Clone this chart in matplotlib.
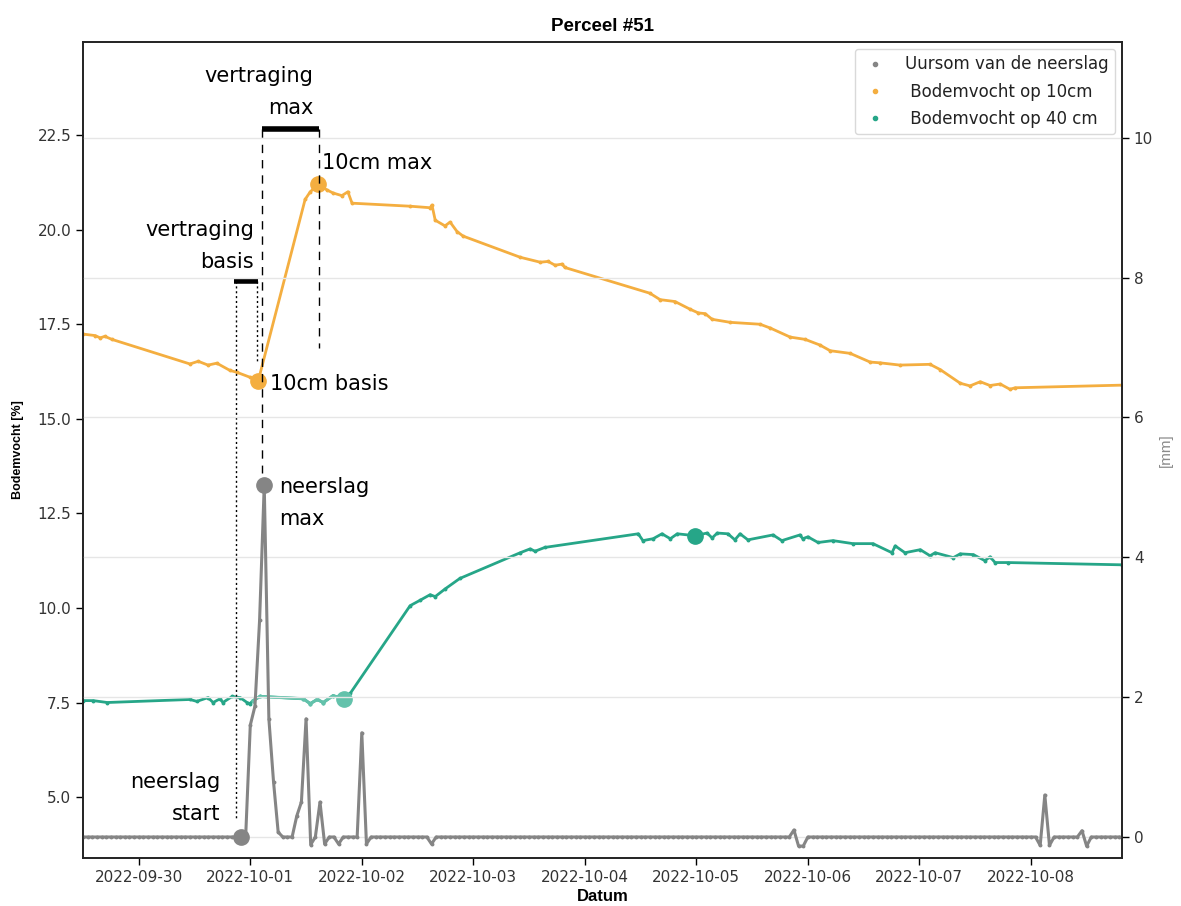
import matplotlib
matplotlib.use("Agg")
import matplotlib.pyplot as plt
import matplotlib.dates as mdates
from matplotlib.lines import Line2D
import pandas as pd

# start of the plotted window, all times below are hours after it
start = pd.Timestamp("2022-09-29 12:00")
end_h = 223.6

# bodemvocht op 10 cm
h10 = [0, 2.6, 3.7, 4.7, 6.2, 23.0, 24.8, 26.9, 28.8, 31.6, 33.1, 35.9, 37.7,
       47.8, 48.9, 50.6, 52.5, 53.8, 55.7, 57.0, 57.9, 70.4, 74.7, 75.1, 75.8,
       77.9, 79.0, 80.5, 81.8, 94.1, 98.4, 100.1, 101.6, 103.1, 103.7, 122.0,
       124.2, 127.4, 130.6, 132.4, 133.9, 135.4, 139.3, 145.7, 147.9, 152.2,
       155.4, 158.6, 160.8, 165.1, 169.4, 171.5, 175.8, 182.3, 184.5, 188.8,
       190.9, 193.1, 195.2, 197.4, 199.5, 200.6, 223.6]
v10 = [17.24, 17.2, 17.14, 17.18, 17.1, 16.45, 16.52, 16.42, 16.47, 16.28, 16.23,
       16.1, 16.0, 20.8, 21.0, 21.2, 21.05, 20.97, 20.9, 21.0, 20.7, 20.62, 20.58,
       20.65, 20.25, 20.1, 20.2, 19.95, 19.83, 19.27, 19.14, 19.16, 19.06, 19.09,
       19.0, 18.32, 18.15, 18.1, 17.9, 17.8, 17.78, 17.63, 17.55, 17.5, 17.4,
       17.16, 17.1, 16.95, 16.8, 16.73, 16.5, 16.48, 16.42, 16.44, 16.3, 15.94,
       15.87, 15.98, 15.88, 15.92, 15.78, 15.82, 15.89]

# bodemvocht op 40 cm
h40 = [0, 2.2, 5.2, 23.0, 24.5, 26.9, 28.0, 29.5, 30.1, 32.1, 33.8, 35.3, 35.9,
       36.6, 38.1, 47.4, 48.9, 50.4, 51.7, 53.8, 56.2, 57.5, 70.4, 72.5, 74.7,
       75.8, 77.9, 81.1, 94.1, 96.2, 97.3, 99.4, 119.5, 120.5, 122.7, 124.6,
       126.4, 127.9, 131.7, 134.3, 135.4, 136.5, 138.8, 140.3, 141.4, 143.1,
       148.5, 150.4, 154.3, 154.9, 156.0, 158.2, 161.4, 165.7, 170.0, 174.1,
       174.8, 176.9, 180.2, 182.3, 183.4, 187.3, 188.8, 191.6, 194.1, 195.2,
       196.3, 199.1, 223.6]
v40 = [7.55, 7.55, 7.5, 7.58, 7.53, 7.63, 7.5, 7.6, 7.5, 7.66, 7.63, 7.5, 7.47,
       7.55, 7.66, 7.6, 7.47, 7.58, 7.5, 7.68, 7.6, 7.74, 10.06, 10.2, 10.35,
       10.3, 10.5, 10.78, 11.46, 11.56, 11.5, 11.6, 11.96, 11.78, 11.83, 11.96,
       11.83, 11.96, 11.91, 11.98, 11.85, 11.98, 11.96, 11.8, 11.96, 11.8, 11.93,
       11.78, 11.93, 11.83, 11.88, 11.73, 11.78, 11.7, 11.7, 11.46, 11.64, 11.46,
       11.54, 11.38, 11.46, 11.33, 11.43, 11.41, 11.25, 11.35, 11.2, 11.2, 11.14]

# uursom neerslag [mm], uren zonder waarde zijn 0
rain_hours = list(range(0, 224))
rain_nonzero = {36: 1.6, 37: 1.87, 38: 3.1, 39: 5.03, 40: 1.69, 41: 0.79, 42: 0.07,
                46: 0.3, 47: 0.5, 48: 1.69, 49: -0.11, 51: 0.5, 52: -0.1, 55: -0.1,
                60: 1.49, 61: -0.1, 75: -0.1, 153: 0.1, 154: -0.13, 155: -0.13,
                206: -0.12, 207: 0.6, 208: -0.12, 215: 0.09, 216: -0.13}
rain = [rain_nonzero.get(h, 0.0) for h in rain_hours]

# gemarkeerde punten
rain_start_h, rain_max_h = 34, 39
basis10_h, max10_h = 37.7, 50.6
basis40_h, max40_h = 56.2, 131.7


def T(h):
    return start + pd.to_timedelta(h, unit="h")


def ts(hours):
    return [T(h) for h in hours]


c10 = "#f4ae40"
c40 = "#26a688"
c40_light = "#63c2ab"
crain = "#858585"

fig = plt.figure(figsize=(11.81, 9.06), dpi=100)
ax = fig.add_axes([0.0703, 0.053, 0.8797, 0.9006])
ax2 = ax.twinx()

ax.plot(ts(h10), v10, color=c10, lw=2, marker="o", ms=1.8)
ax.plot(ts(h40), v40, color=c40, lw=2, marker="o", ms=1.8)
# lichter stuk 40cm tot de basis
seg = [i for i, h in enumerate(h40) if 36.6 <= h <= 56.2]
ax.plot(ts([h40[i] for i in seg]), [v40[i] for i in seg], color=c40_light, lw=2.2,
        marker="o", ms=1.8)

ax.plot(T(basis10_h), 16.0, "o", color=c10, ms=11)
ax.plot(T(max10_h), 21.2, "o", color=c10, ms=11)
ax.plot(T(basis40_h), 7.6, "o", color=c40_light, ms=11)
ax.plot(T(max40_h), 11.91, "o", color=c40, ms=11)

ax2.plot(ts(rain_hours), rain, color=crain, lw=2.2, marker="o", ms=1.8)
ax2.plot(T(rain_start_h), 0, "o", color=crain, ms=11)
ax2.plot(T(rain_max_h), 5.03, "o", color=crain, ms=11)

# vertraging lijnen
ax.plot([T(33.0)] * 2, [18.64, 4.45], ls=(0, (1.5, 2)), color="k", lw=1)
ax.plot([T(37.45)] * 2, [18.64, 16.48], ls=(0, (1.5, 2)), color="k", lw=1)
ax.plot([T(32.6), T(37.6)], [18.64, 18.64], color="k", lw=4, solid_capstyle="butt")
ax.plot([T(38.6)] * 2, [22.66, 13.57], ls=(0, (6, 5)), color="k", lw=1)
ax.plot([T(50.7)] * 2, [22.66, 16.87], ls=(0, (6, 5)), color="k", lw=1)
ax.plot([T(38.6), T(50.7)], [22.66, 22.66], color="k", lw=4, solid_capstyle="butt")

fs = 15
ax.text(T(49.5), 23.64, "vertraging\nmax", ha="right", va="center", fontsize=fs, linespacing=1.75)
ax.text(T(36.8), 19.57, "vertraging\nbasis", ha="right", va="center", fontsize=fs, linespacing=1.75)
ax.text(T(51.4), 21.76, "10cm max", ha="left", va="center", fontsize=fs)
ax.text(T(40.2), 15.92, "10cm basis", ha="left", va="center", fontsize=fs)
ax.text(T(42.2), 12.78, "neerslag\nmax", ha="left", va="center", fontsize=fs, linespacing=1.75)
ax.text(T(29.5), 4.97, "neerslag\nstart", ha="right", va="center", fontsize=fs, linespacing=1.75)

ax.set_xlim(T(0), T(end_h))
ax.set_ylim(3.39, 24.96)
ax2.set_ylim(-0.3, 11.37)
ax.set_yticks([5.0, 7.5, 10.0, 12.5, 15.0, 17.5, 20.0, 22.5])
ax2.set_yticks([0, 2, 4, 6, 8, 10])
ax2.grid(True, axis="y", color="#e6e6e6", lw=1)
ax2.set_axisbelow(True)

ax.xaxis.set_major_locator(mdates.DayLocator())
ax.xaxis.set_major_formatter(mdates.DateFormatter("%Y-%m-%d"))
for a in (ax, ax2):
    a.tick_params(labelsize=11, labelcolor="#333333", length=5, width=1)
    for s in a.spines.values():
        s.set_linewidth(1.2)
        s.set_color("#222222")

ax.set_title("Perceel #51", fontsize=13.5, fontweight="bold", family="Liberation Sans", pad=8)
ax.set_xlabel("Datum", fontsize=12, fontweight="bold", family="Liberation Sans", labelpad=3)
ax.set_ylabel("Bodemvocht [%]", fontsize=9, fontweight="bold", family="Liberation Sans", labelpad=10)
ax2.set_ylabel("[mm]", fontsize=11, color="#8a8a8a", family="Liberation Sans", labelpad=4)

handles = [Line2D([], [], ls="", marker="o", ms=3, color=crain),
           Line2D([], [], ls="", marker="o", ms=3, color=c10),
           Line2D([], [], ls="", marker="o", ms=3, color=c40)]
labels = ["Uursom van de neerslag", " Bodemvocht op 10cm", " Bodemvocht op 40 cm"]
leg = ax2.legend(handles, labels, loc="upper right", fontsize=12, framealpha=0.9,
                 edgecolor="#d5d5d5", borderaxespad=0.4, handlelength=1.6,
                 handletextpad=1.0, labelspacing=0.55)
leg.get_frame().set_linewidth(1)
for t in leg.get_texts():
    t.set_color("#222222")

fig.savefig("out.png", dpi=100)
